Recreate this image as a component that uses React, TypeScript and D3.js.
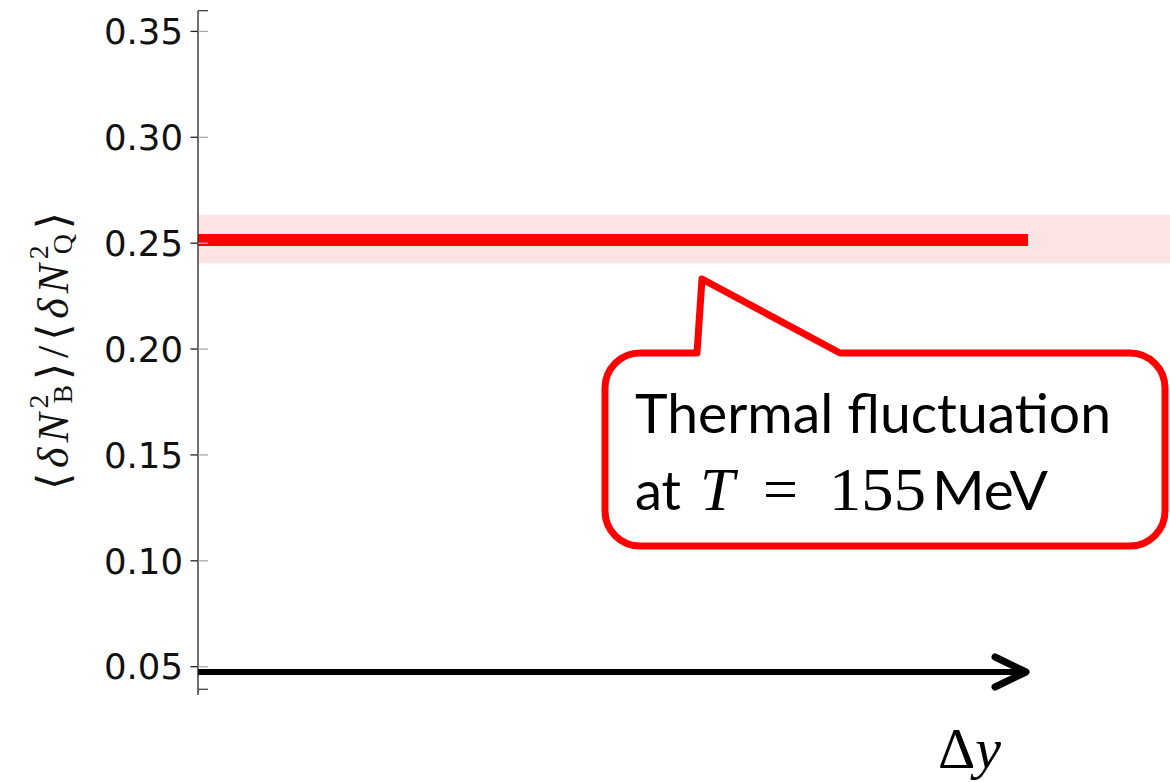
import React from "react";
import * as d3 from "d3";

// Baryon-to-charge fluctuation ratio versus rapidity window
const yTickValues = [0.05, 0.1, 0.15, 0.2, 0.25, 0.3, 0.35];
const yDomain = [0.0366, 0.3598];
const thermalRatio = 0.2515;
const thermalBand = [0.2405, 0.2635];
const lineExtent = [0, 1];
const bandExtent = [0, 1.2];
const arrowLevel = 0.0475;
const arrowExtent = [0, 1.0];

const W = 1170;
const H = 782;

const x = d3.scaleLinear().domain([0, 1]).range([198, 1028]);
const y = d3.scaleLinear().domain([0.05, 0.35]).range([666.7, 31.4]);
const fmt = d3.format(".2f");

const RED = "#ff0000";

function calloutPath(): string {
  const left = 605, right = 1165, top = 353, bottom = 546, r = 35;
  const p = d3.path();
  p.moveTo(697, top);
  p.lineTo(702, 279);
  p.lineTo(840, top);
  p.lineTo(right - r, top);
  p.arcTo(right, top, right, top + r, r);
  p.lineTo(right, bottom - r);
  p.arcTo(right, bottom, right - r, bottom, r);
  p.lineTo(left + r, bottom);
  p.arcTo(left, bottom, left, bottom - r, r);
  p.lineTo(left, top + r);
  p.arcTo(left, top, left + r, top, r);
  p.closePath();
  return p.toString();
}

export default function App() {
  const axisX = x(0);
  const line = d3.line<[number, number]>().x((d) => x(d[0])).y((d) => y(d[1]));
  const sans = "'Lato', 'Open Sans', sans-serif";
  const serif = "'Liberation Serif', 'DejaVu Serif', serif";
  const tipX = x(arrowExtent[1]) - 2;
  const tipY = y(arrowLevel);

  return (
    <svg
      width={W}
      height={H}
      viewBox={`0 0 ${W} ${H}`}
      style={{ position: "absolute", left: 0, top: 0, background: "#fff" }}
    >
      {/* uncertainty band */}
      <rect
        x={x(bandExtent[0])}
        y={y(thermalBand[1])}
        width={x(bandExtent[1]) - x(bandExtent[0])}
        height={y(thermalBand[0]) - y(thermalBand[1])}
        fill="#fde4e4"
      />
      {/* thermal value */}
      <path
        d={line([[lineExtent[0], thermalRatio], [lineExtent[1], thermalRatio]]) || ""}
        stroke={RED}
        strokeWidth={12}
        fill="none"
      />

      {/* y axis */}
      <line x1={axisX} x2={axisX} y1={y(yDomain[1])} y2={y(yDomain[0])} stroke="#222" strokeWidth={1.3} />
      <line x1={axisX} x2={axisX + 10} y1={y(yDomain[1])} y2={y(yDomain[1])} stroke="#444" strokeWidth={1.3} />
      <line x1={axisX} x2={axisX + 10} y1={689.3} y2={689.3} stroke="#444" strokeWidth={1.3} />
      {yTickValues.map((v) => (
        <g key={v}>
          <line x1={axisX - 7.5} x2={axisX} y1={y(v)} y2={y(v)} stroke="#222" strokeWidth={1.3} />
          <line x1={axisX} x2={axisX + 10} y1={y(v)} y2={y(v)} stroke="#aaa" strokeWidth={1.3} />
          <text
            x={183}
            y={y(v)}
            dy="0.36em"
            textAnchor="end"
            fontFamily="'DejaVu Sans', sans-serif"
            fontSize={35.5}
            fill="#111"
          >
            {fmt(v)}
          </text>
        </g>
      ))}

      {/* y axis title */}
      <g transform="rotate(-90)" fontFamily={serif} fill="#111">
        <text x={-490} y={68} fontSize={44} textLength={278} lengthAdjust="spacing">
          <tspan>⟨</tspan>
          <tspan fontStyle="italic">δN</tspan>
          <tspan fontSize={28} dy={-20}>2</tspan>
          <tspan fontSize={28} dx={-14} dy={24}>B</tspan>
          <tspan dy={-4}>⟩/⟨</tspan>
          <tspan fontStyle="italic">δN</tspan>
          <tspan fontSize={28} dy={-20}>2</tspan>
          <tspan fontSize={28} dx={-14} dy={24}>Q</tspan>
          <tspan dy={-4}>⟩</tspan>
        </text>
      </g>

      {/* Δy direction arrow */}
      <path
        d={line([[arrowExtent[0], arrowLevel], [arrowExtent[1], arrowLevel]]) || ""}
        stroke="#000"
        strokeWidth={6}
        fill="none"
      />
      <path
        d={`M${tipX - 31},${tipY - 15} L${tipX},${tipY} L${tipX - 31},${tipY + 15}`}
        stroke="#000"
        strokeWidth={7}
        strokeLinecap="round"
        strokeLinejoin="round"
        fill="none"
      />
      <text x={938} y={768} fontFamily={serif} fontSize={58} fill="#000">
        <tspan>Δ</tspan>
        <tspan fontStyle="italic">y</tspan>
      </text>

      {/* callout */}
      <path d={calloutPath()} fill="#fff" stroke={RED} strokeWidth={7} strokeLinejoin="round" />
      <text x={635} y={433} fontFamily={sans} fontSize={55} fill="#000" textLength={476} lengthAdjust="spacingAndGlyphs">
        Thermal fluctuation
      </text>
      <text x={635} y={510} fontFamily={sans} fontSize={55} fill="#000" textLength={46} lengthAdjust="spacingAndGlyphs">
        at
      </text>
      <text x={700} y={510} fontFamily={serif} fontStyle="italic" fontSize={62} fill="#000">
        T
      </text>
      <text x={763} y={510} fontFamily={serif} fontSize={62} fill="#000">
        =
      </text>
      <text x={829} y={510} fontFamily={serif} fontSize={62} fill="#000" textLength={97} lengthAdjust="spacingAndGlyphs">
        155
      </text>
      <text x={932} y={510} fontFamily={sans} fontSize={55} fill="#000" textLength={116} lengthAdjust="spacingAndGlyphs">
        MeV
      </text>
    </svg>
  );
}
